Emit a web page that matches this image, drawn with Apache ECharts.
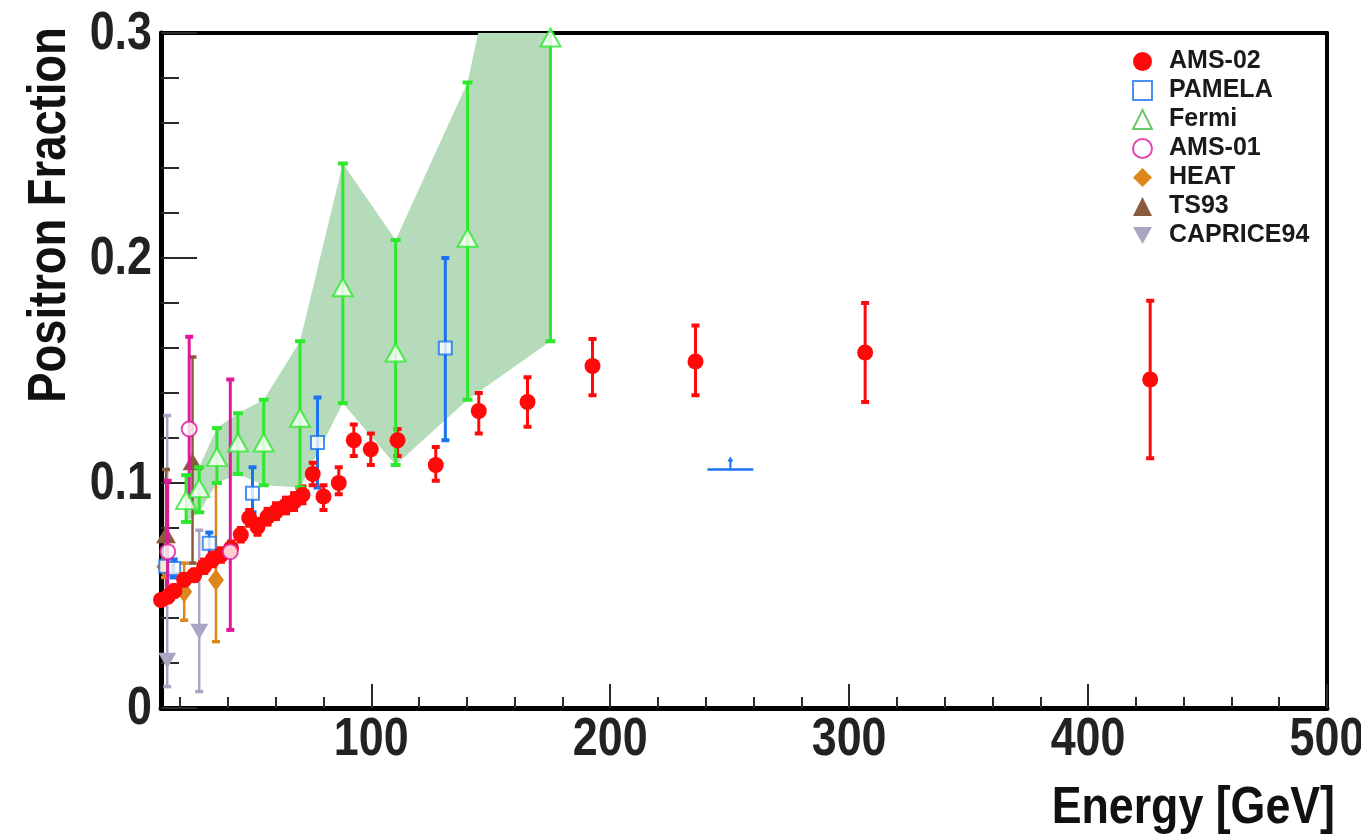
<!DOCTYPE html>
<html><head><meta charset="utf-8">
<script src="https://cdn.jsdelivr.net/npm/echarts@6/dist/echarts.min.js"></script>
<style>html,body{margin:0;padding:0;background:#fff}#c{width:1361px;height:837px}</style>
</head><body><div id="c"></div>
<script>
// ---- data: [energy GeV, fraction, lower error end, upper error end]
const ams02 = [
  [12.0,0.048,0.046,0.050],[14.8,0.0495,0.047,0.052],[17.6,0.052,0.0495,0.0545],
  [21.7,0.057,0.0545,0.0595],[25.9,0.059,0.0565,0.0615],[30.1,0.063,0.060,0.066],
  [33.6,0.066,0.063,0.069],[37.1,0.068,0.065,0.071],[41.3,0.071,0.068,0.074],
  [45.4,0.077,0.074,0.080],[48.9,0.0845,0.081,0.088],[52.4,0.0805,0.077,0.084],
  [56.6,0.085,0.0815,0.0885],[60.1,0.0873,0.084,0.091],[64.3,0.090,0.0865,0.0935],
  [67.7,0.0917,0.088,0.0955],[71.2,0.0947,0.091,0.0985],[75.5,0.104,0.099,0.109],
  [80.0,0.094,0.088,0.099],[86.4,0.100,0.095,0.107],[92.7,0.119,0.112,0.126],
  [99.8,0.115,0.108,0.122],[111.0,0.119,0.112,0.124],[127.0,0.108,0.101,0.116],
  [145.0,0.132,0.122,0.140],[165.4,0.136,0.125,0.147],[192.6,0.152,0.139,0.164],
  [235.7,0.154,0.139,0.170],[306.7,0.158,0.136,0.180],[426.0,0.146,0.111,0.181]
];
const pamela = [
  [14.0,0.063,0.060,0.067],[17.3,0.062,0.058,0.066],[32.2,0.0732,0.066,0.078],
  [50.3,0.0955,0.087,0.107],[77.5,0.118,0.098,0.138],[131.0,0.160,0.119,0.200]
];
// PAMELA lower-limit marker: [energy, fraction, bin low, bin high]
const pamelaLimit = [[250.3,0.106,240.7,259.9]];
const fermi = [
  [22.5,0.0924,0.0827,0.1035],[28.0,0.0977,0.087,0.107],[35.4,0.1116,0.100,0.1244],
  [44.2,0.118,0.104,0.131],[55.0,0.118,0.099,0.137],[70.2,0.129,0.098,0.163],
  [88.1,0.187,0.1355,0.242],[110.2,0.158,0.108,0.208],[140.3,0.209,0.137,0.278],
  [175.0,0.298,0.163,0.45]
];
const ams01 = [[14.8,0.0695,0.0495,0.101],[23.8,0.124,0.094,0.165],[41.0,0.0695,0.0347,0.146]];
const heat = [[13.4,0.0628,0.058,0.067],[21.7,0.0517,0.039,0.0644],[35.0,0.0569,0.0295,0.100]];
const ts93 = [[14.1,0.077,0.050,0.106],[25.2,0.1095,0.0644,0.156]];
const caprice94 = [[14.6,0.021,0.0095,0.13],[28.0,0.0339,0.0073,0.079]];
const xRange = [12, 500];
const yRange = [0, 0.3];
const xMajorTicks = [100,200,300,400,500];
const xMinorTicks = [20,40,60,80,120,140,160,180,220,240,260,280,320,340,360,380,420,440,460,480];
const yMajorTicks = [0, 0.1, 0.2, 0.3];
const yTickLabels = ['0', '0.1', '0.2', '0.3'];
const xTickLabels = ['100', '200', '300', '400', '500'];
const xTitle = 'Energy [GeV]';
const yTitle = 'Positron Fraction';

const SANS = "'Liberation Sans',Arial,Helvetica,sans-serif";

const C = {
  ams02:'#ff0a0a', pamela:'#1a74ef', fermi:'#2ee82e', fermiLeg:'#46b946', band:'#b5dbba',
  ams01:'#e0189a', heat:'#dd861c', ts93:'#8a5a3c', caprice:'#aba4c2'
};

function errSeries(name, data, color, lw, cap, z) {
  return {
    type:'custom', name: name + ' err', data: data, z: z, clip: true,
    encode:{x:0,y:1}, silent:true,
    renderItem: function(params, api){
      const x = api.value(0);
      const t = api.coord([x, api.value(3)]);
      const b = api.coord([x, api.value(2)]);
      return {type:'group', children:[
        {type:'line', shape:{x1:t[0],y1:t[1],x2:b[0],y2:b[1]}, style:{stroke:color,lineWidth:lw}},
        {type:'line', shape:{x1:t[0]-cap,y1:t[1],x2:t[0]+cap,y2:t[1]}, style:{stroke:color,lineWidth:lw+1}},
        {type:'line', shape:{x1:b[0]-cap,y1:b[1],x2:b[0]+cap,y2:b[1]}, style:{stroke:color,lineWidth:lw+1}}
      ]};
    }
  };
}
function markSeries(name, data, color, symbol, size, extra, z) {
  return Object.assign({
    type:'scatter', name:name, data: data.map(d=>[d[0],d[1]]), z: z,
    symbol: symbol, symbolSize: size, silent:true,
    itemStyle:{color:color, opacity:1}
  }, extra || {});
}
// tick labels drawn through the axes' scales, with horizontally condensed text
function tickLabelSeries(points, labels, dx, dy, align) {
  return {
    type:'custom', name:'ticklabels', data: points, z: 10, clip:false, silent:true,
    encode:{x:0,y:1},
    renderItem: function(params, api){
      const p = api.coord([api.value(0), api.value(1)]);
      return {type:'text', x:p[0]+dx, y:p[1]+dy, scaleX:0.83,
        style:{text: labels[params.dataIndex], fontFamily:SANS, fontWeight:'bold', fontSize:54,
               fill:'#222', align:align, verticalAlign:'middle'}};
    }
  };
}

const downTri = 'path://M0,0L10,0L5,9Z';

const series = [
  { // Fermi band
    type:'custom', name:'Fermi band', data:[[fermi[0][0], fermi[0][1]]], z:1, clip:true,
    encode:{x:0,y:1}, silent:true,
    renderItem: function(params, api){
      const up = fermi.map(d=>api.coord([d[0], d[3]]));
      const lo = fermi.slice().reverse().map(d=>api.coord([d[0], d[2]]));
      return {type:'polygon', shape:{points: up.concat(lo)}, style:{fill:C.band}};
    }
  },
  errSeries('CAPRICE94', caprice94, C.caprice, 2.5, 4, 2),
  markSeries('CAPRICE94', caprice94, C.caprice, downTri, [18,16], null, 3),
  errSeries('TS93', ts93, C.ts93, 2.5, 4, 2),
  markSeries('TS93', ts93, C.ts93, 'triangle', [20,17], null, 3),
  errSeries('HEAT', heat, C.heat, 2.5, 4, 2),
  markSeries('HEAT', heat, C.heat, 'diamond', [16,22], null, 3),
  errSeries('PAMELA', pamela, C.pamela, 3, 4, 2),
  markSeries('PAMELA', pamela, C.pamela, 'emptyRect', 13, {itemStyle:{color:C.pamela,borderColor:C.pamela,borderWidth:3}}, 3),
  {
    type:'custom', name:'PAMELA limit', data: pamelaLimit, z:2, clip:true, encode:{x:0,y:1}, silent:true,
    renderItem: function(params, api){
      const l = api.coord([api.value(2), api.value(1)]);
      const r = api.coord([api.value(3), api.value(1)]);
      const c = api.coord([api.value(0), api.value(1)]);
      return {type:'group', children:[
        {type:'line', shape:{x1:l[0],y1:l[1],x2:r[0],y2:r[1]}, style:{stroke:C.pamela,lineWidth:2.5}},
        {type:'line', shape:{x1:c[0],y1:c[1],x2:c[0],y2:c[1]-9}, style:{stroke:C.pamela,lineWidth:2}},
        {type:'polygon', shape:{points:[[c[0]-3,c[1]-8],[c[0]+3,c[1]-8],[c[0],c[1]-13]]}, style:{fill:C.pamela}}
      ]};
    }
  },
  errSeries('AMS-02', ams02, C.ams02, 3, 4, 4),
  markSeries('AMS-02', ams02, C.ams02, 'circle', 16, null, 5),
  errSeries('AMS-01', ams01, C.ams01, 3, 4, 4),
  markSeries('AMS-01', ams01, C.ams01, 'emptyCircle', 15, {itemStyle:{color:C.ams01,borderColor:C.ams01,borderWidth:3}}, 5),
  errSeries('Fermi', fermi, C.fermi, 3, 5, 4),
  markSeries('Fermi', fermi, C.fermi, 'emptyTriangle', [20,18], {itemStyle:{color:C.fermi,borderColor:C.fermi,borderWidth:2.5}}, 5),
  tickLabelSeries(xMajorTicks.map(v=>[v, yRange[0]]), xTickLabels, 0, 32, 'center'),
  tickLabelSeries(yMajorTicks.map(v=>[xRange[0], v]), yTickLabels, -9, 1, 'right')
];

const chart = echarts.init(document.getElementById('c'), null, {renderer:'canvas'});
const tickColor = '#2a2a2a';
chart.setOption({
  animation:false,
  backgroundColor:'#ffffff',
  grid:{left:161, right:34, top:33, bottom:129, outerBoundsMode:'none', containLabel:false},
  legend:{
    orient:'vertical', left:1127, top:44, itemGap:4, itemWidth:19, itemHeight:19,
    selectedMode:false,
    textStyle:{fontFamily:SANS, fontWeight:'bold', fontSize:25, color:'#1a1a1a', lineHeight:23, padding:[0,0,0,12]},
    data:[
      {name:'AMS-02', icon:'circle'},
      {name:'PAMELA', icon:'emptyRect', itemStyle:{borderWidth:3}},
      {name:'Fermi', icon:'emptyTriangle', itemStyle:{color:C.fermiLeg, borderColor:C.fermiLeg, borderWidth:3}},
      {name:'AMS-01', icon:'emptyCircle', itemStyle:{borderWidth:3}},
      {name:'HEAT', icon:'diamond'},
      {name:'TS93', icon:'triangle'},
      {name:'CAPRICE94', icon:downTri}
    ]
  },
  xAxis:[
    {type:'value', min:xRange[0], max:xRange[1], position:'bottom',
     axisLine:{show:true, onZero:false, lineStyle:{color:'#000', width:5}},
     axisTick:{show:true, inside:true, length:24, customValues:xMajorTicks, lineStyle:{color:tickColor, width:2}},
     axisLabel:{show:false}, splitLine:{show:false}},
    {type:'value', min:xRange[0], max:xRange[1], position:'bottom',
     axisLine:{show:false, onZero:false},
     axisTick:{show:true, inside:true, length:11, customValues:xMinorTicks, lineStyle:{color:tickColor, width:2}},
     axisLabel:{show:false}, splitLine:{show:false}},
    {type:'value', min:xRange[0], max:xRange[1], position:'top',
     axisLine:{show:true, onZero:false, lineStyle:{color:'#000', width:4}},
     axisTick:{show:false}, axisLabel:{show:false}, splitLine:{show:false}}
  ],
  yAxis:[
    {type:'value', min:yRange[0], max:yRange[1], interval:0.1, position:'left',
     axisLine:{show:true, onZero:false, lineStyle:{color:'#000', width:5}},
     axisTick:{show:true, inside:true, length:36, lineStyle:{color:tickColor, width:2}},
     minorTick:{show:true, splitNumber:5, length:18, lineStyle:{color:tickColor, width:2}},
     axisLabel:{show:false}, splitLine:{show:false}},
    {type:'value', min:yRange[0], max:yRange[1], position:'right',
     axisLine:{show:true, onZero:false, lineStyle:{color:'#000', width:4}},
     axisTick:{show:false}, axisLabel:{show:false}, splitLine:{show:false}}
  ],
  graphic:[
    {type:'text', x:50, y:215, rotation:Math.PI/2, scaleX:0.84,
     style:{text:yTitle, fontFamily:SANS, fontWeight:'bold', fontSize:54, fill:'#111', align:'center', verticalAlign:'middle'}},
    {type:'text', x:1335, y:809, scaleX:0.86,
     style:{text:xTitle, fontFamily:SANS, fontWeight:'bold', fontSize:52, fill:'#111', align:'right', verticalAlign:'middle'}}
  ],
  series: series
});
</script></body></html>
